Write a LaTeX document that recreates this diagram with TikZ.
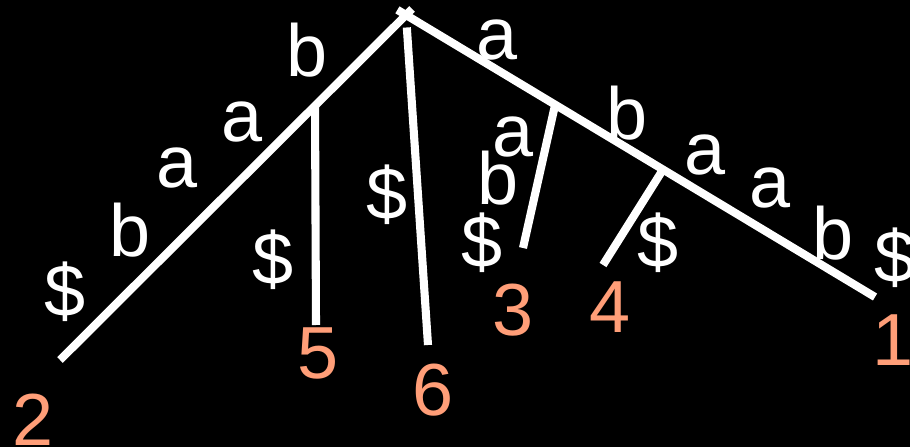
\documentclass[tikz,border=0pt]{standalone}
\usepackage{fontspec}
\setmainfont{Liberation Sans}
\usetikzlibrary{calc}
\definecolor{bgblack}{HTML}{000000}
\definecolor{fgwhite}{HTML}{FFFFFF}
\definecolor{leafsalmon}{HTML}{FF9E78}

\begin{document}
\begin{tikzpicture}[
  every node/.style={inner sep=0pt},
  branch/.style={draw=fgwhite, line width=4.6pt},
  edgelbl/.style={text=fgwhite, font=\fontsize{42}{42}\selectfont},
  leafnum/.style={text=leafsalmon, font=\fontsize{42}{42}\selectfont}
]
  % Fondo
  \fill[bgblack] (0,0) rectangle (18.2,8.94);
  \useasboundingbox (0,0) rectangle (18.2,8.94);

  % Raiz y hojas
  \coordinate (root) at (8.12,8.64);
  \coordinate (l2) at (1.2,1.74);
  \coordinate (l1) at (17.5,3.0);
  \coordinate (n5) at ($(root)!0.263!(l2)$);
  \coordinate (n3) at ($(root)!0.318!(l1)$);
  \coordinate (n4) at ($(root)!0.548!(l1)$);
  \coordinate (l5) at (6.32,2.44);
  \coordinate (l6) at (8.56,2.04);
  \coordinate (l3) at (10.46,3.98);
  \coordinate (l4) at (12.06,3.64);

  % Aristas
  \draw[branch, shorten >=-0.17cm] (l2) -- (root);
  \draw[branch, shorten >=-0.2cm] (l1) -- (root);
  \draw[branch] (n5) -- (l5);
  \draw[branch, shorten <=0.25cm] (root) -- (l6);
  \draw[branch] (n3) -- (l3);
  \draw[branch] (n4) -- (l4);

  % Etiquetas rama izquierda
  \node[edgelbl] (e21) at (1.3,3.1) {\$};
  \node[edgelbl] (e22) at (2.6,4.34) {b};
  \node[edgelbl] (e23) at (3.54,5.58) {a};
  \node[edgelbl] (e24) at (4.84,6.5) {a};
  \node[edgelbl] (e25) at (6.14,7.94) {b};
  \node[edgelbl] (e5) at (5.46,3.74) {\$};
  \node[edgelbl] (e6) at (7.74,5.04) {\$};

  % Etiquetas rama derecha
  \node[edgelbl] (e11) at (9.94,8.14) {a};
  \node[edgelbl] (e31) at (10.26,6.2) {a};
  \node[edgelbl] (e32) at (9.96,5.38) {b};
  \node[edgelbl] (e33) at (9.64,4.08) {\$};
  \node[edgelbl] (e12) at (12.54,6.68) {b};
  \node[edgelbl] (e13) at (14.1,5.84) {a};
  \node[edgelbl] (e4) at (13.16,4.08) {\$};
  \node[edgelbl] (e14) at (15.4,5.18) {a};
  \node[edgelbl] (e15) at (16.66,4.28) {b};
  \node[edgelbl] (e16) at (17.9,3.78) {\$};

  % Numeros de hoja
  \node[leafnum] (num2) at (0.66,0.54) {2};
  \node[leafnum] (num5) at (6.36,1.88) {5};
  \node[leafnum] (num6) at (8.66,1.14) {6};
  \node[leafnum] (num3) at (10.26,2.74) {3};
  \node[leafnum] (num4) at (12.2,2.8) {4};
  \node[leafnum] (num1) at (17.86,2.14) {1};
\end{tikzpicture}
\end{document}
